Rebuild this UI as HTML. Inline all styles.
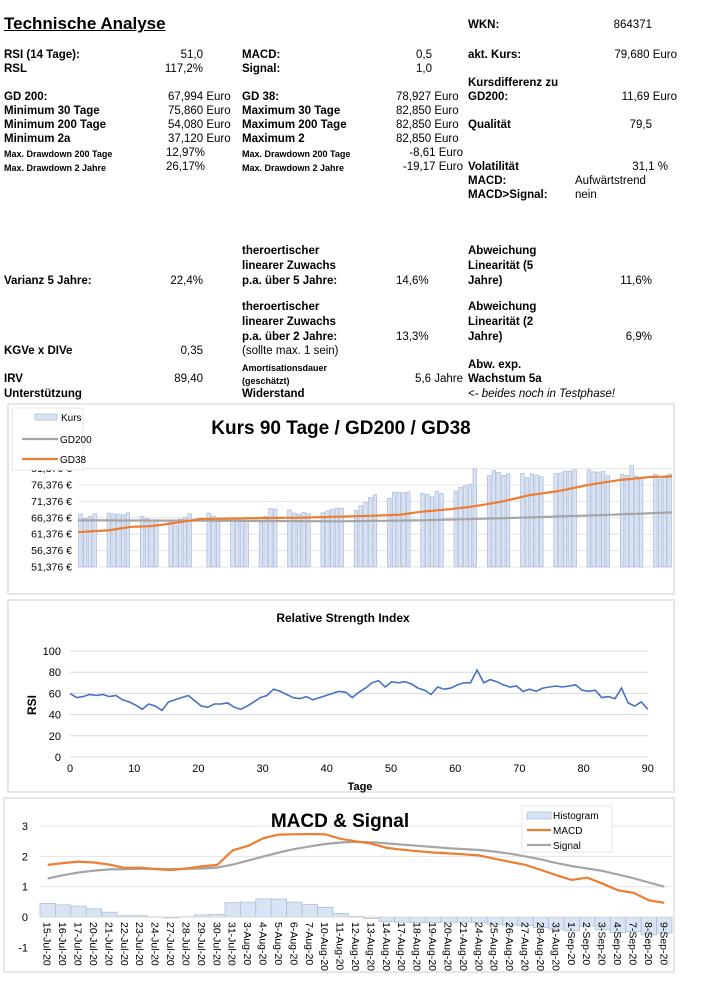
<!DOCTYPE html>
<html><head><meta charset="utf-8">
<style>
body{margin:0;background:#fff;width:706px;height:998px;overflow:hidden;position:relative;font-family:"Liberation Sans",Arial,sans-serif;}
.t{position:absolute;font-size:11.5px;font-weight:bold;white-space:nowrap;line-height:13px;}
.n{font-weight:normal}
.s{font-size:9px}
.r{text-align:right}
svg{position:absolute;left:0;top:0}
</style></head><body>
<div class="t" style="left:4px;top:14px;font-size:17px;text-decoration:underline;line-height:20px">Technische Analyse</div>
<div class="t" style="left:468px;top:19px">WKN:</div>
<div class="t n r" style="left:560px;width:92px;top:19px">864371</div>

<div class="t" style="left:4px;top:49px">RSI (14 Tage):</div><div class="t n r" style="left:120px;width:83px;top:49px">51,0</div>
<div class="t" style="left:4px;top:63px">RSL</div><div class="t n r" style="left:120px;width:83px;top:63px">117,2%</div>
<div class="t" style="left:242px;top:49px">MACD:</div><div class="t n r" style="left:350px;width:82px;top:49px">0,5</div>
<div class="t" style="left:242px;top:63px">Signal:</div><div class="t n r" style="left:350px;width:82px;top:63px">1,0</div>
<div class="t" style="left:468px;top:49px">akt. Kurs:</div><div class="t n r" style="left:560px;width:117px;top:49px">79,680 Euro</div>
<div class="t" style="left:468px;top:77px">Kursdifferenz zu</div>
<div class="t" style="left:468px;top:91px">GD200:</div><div class="t n r" style="left:560px;width:117px;top:91px">11,69 Euro</div>

<div class="t" style="left:4px;top:91px">GD 200:</div><div class="t n" style="left:168px;top:91px">67,994 Euro</div>
<div class="t" style="left:4px;top:105px">Minimum 30 Tage</div><div class="t n" style="left:168px;top:105px">75,860 Euro</div>
<div class="t" style="left:4px;top:119px">Minimum 200 Tage</div><div class="t n" style="left:168px;top:119px">54,080 Euro</div>
<div class="t" style="left:4px;top:133px">Minimum 2a</div><div class="t n" style="left:168px;top:133px">37,120 Euro</div>
<div class="t s" style="left:4px;top:148px">Max. Drawdown 200 Tage</div><div class="t n" style="left:166px;top:147px">12,97%</div>
<div class="t s" style="left:4px;top:162px">Max. Drawdown 2 Jahre</div><div class="t n" style="left:166px;top:161px">26,17%</div>

<div class="t" style="left:242px;top:91px">GD 38:</div><div class="t n" style="left:396px;top:91px">78,927 Euro</div>
<div class="t" style="left:242px;top:105px">Maximum 30 Tage</div><div class="t n" style="left:396px;top:105px">82,850 Euro</div>
<div class="t" style="left:242px;top:119px">Maximum 200 Tage</div><div class="t n" style="left:396px;top:119px">82,850 Euro</div>
<div class="t" style="left:242px;top:133px">Maximum 2</div><div class="t n" style="left:396px;top:133px">82,850 Euro</div>
<div class="t s" style="left:242px;top:148px">Max. Drawdown 200 Tage</div><div class="t n r" style="left:340px;width:123px;top:147px">-8,61 Euro</div>
<div class="t s" style="left:242px;top:162px">Max. Drawdown 2 Jahre</div><div class="t n r" style="left:340px;width:123px;top:161px">-19,17 Euro</div>

<div class="t" style="left:468px;top:119px">Qualität</div><div class="t n r" style="left:560px;width:92px;top:119px">79,5</div>
<div class="t" style="left:468px;top:161px">Volatilität</div><div class="t n r" style="left:560px;width:108px;top:161px">31,1 %</div>
<div class="t" style="left:468px;top:175px">MACD:</div><div class="t n" style="left:575px;top:175px">Aufwärtstrend</div>
<div class="t" style="left:468px;top:189px">MACD&gt;Signal:</div><div class="t n" style="left:575px;top:189px">nein</div>

<div class="t" style="left:242px;top:245px">theroertischer</div>
<div class="t" style="left:242px;top:260px">linearer Zuwachs</div>
<div class="t" style="left:242px;top:275px">p.a. über 5 Jahre:</div><div class="t n" style="left:396px;top:275px">14,6%</div>
<div class="t" style="left:4px;top:275px">Varianz 5 Jahre:</div><div class="t n r" style="left:120px;width:83px;top:275px">22,4%</div>
<div class="t" style="left:468px;top:245px">Abweichung</div>
<div class="t" style="left:468px;top:260px">Linearität (5</div>
<div class="t" style="left:468px;top:275px">Jahre)</div><div class="t n r" style="left:560px;width:92px;top:275px">11,6%</div>

<div class="t" style="left:242px;top:301px">theroertischer</div>
<div class="t" style="left:242px;top:316px">linearer Zuwachs</div>
<div class="t" style="left:242px;top:331px">p.a. über 2 Jahre:</div><div class="t n" style="left:396px;top:331px">13,3%</div>
<div class="t n" style="left:242px;top:345px">(sollte max. 1 sein)</div>
<div class="t" style="left:468px;top:301px">Abweichung</div>
<div class="t" style="left:468px;top:316px">Linearität (2</div>
<div class="t" style="left:468px;top:331px">Jahre)</div><div class="t n r" style="left:560px;width:92px;top:331px">6,9%</div>
<div class="t" style="left:4px;top:345px">KGVe x DIVe</div><div class="t n r" style="left:120px;width:83px;top:345px">0,35</div>

<div class="t s" style="left:242px;top:362px">Amortisationsdauer</div>
<div class="t s" style="left:242px;top:375px">(geschätzt)</div>
<div class="t n r" style="left:360px;width:103px;top:373px">5,6 Jahre</div>
<div class="t" style="left:468px;top:359px">Abw. exp.</div>
<div class="t" style="left:468px;top:373px">Wachstum 5a</div>
<div class="t" style="left:4px;top:373px">IRV</div><div class="t n r" style="left:120px;width:83px;top:373px">89,40</div>
<div class="t" style="left:4px;top:388px">Unterstützung</div>
<div class="t" style="left:242px;top:388px">Widerstand</div>
<div class="t n" style="left:468px;top:388px;font-style:italic">&lt;- beides noch in Testphase!</div>

<svg id="s" width="706" height="998" xmlns="http://www.w3.org/2000/svg" font-family="Liberation Sans, Arial, sans-serif"></svg>
<script>
var s=document.getElementById('s'),h='';
function L(x1,y1,x2,y2,c,w){h+='<line x1="'+x1+'" y1="'+y1+'" x2="'+x2+'" y2="'+y2+'" stroke="'+c+'" stroke-width="'+(w||1)+'"/>';}
function R(x,y,w,hh,f,st){h+='<rect x="'+x+'" y="'+y+'" width="'+w+'" height="'+hh+'" fill="'+f+'" stroke="'+(st||'none')+'" stroke-width="0.7"/>';}
function T(x,y,t,o){h+='<text x="'+x+'" y="'+y+'" '+(o||'')+'>'+t+'</text>';}
function P(pts,c,w){h+='<polyline fill="none" stroke="'+c+'" stroke-width="'+w+'" points="'+pts.map(function(p){return p[0].toFixed(1)+','+p[1].toFixed(1)}).join(' ')+'"/>';}
function interp(tab,x){for(var k=1;k<tab.length;k++){if(x<=tab[k][0]){var a=tab[k-1],b=tab[k];return a[1]+(b[1]-a[1])*(x-a[0])/(b[0]-a[0]);}}return tab[tab.length-1][1];}
// Chart 1
R(8,404,666,190,'#fff','#bbb');
var y1=function(v){return 567-(v-51.376)*16.4/5;};
for(var i=0;i<7;i++){var v=51.376+5*i;L(78,y1(v),672,y1(v),'#e4e4e4');T(72,y1(v)+3.5,(v.toFixed(3)).replace('.',',')+' €','font-size="10.5" text-anchor="end"');}
var kv=[67.5,66.2,66.8,67.6,0,0,67.8,67.6,67.5,67.3,67.9,0,0,66.8,66.2,65.5,65.8,0,0,65,64,66,66.5,67.6,0,0,0,67.8,66.8,65.8,0,0,65.5,65.8,65.5,65.2,0,0,65,66.8,69.2,69,0,0,68.8,67.8,67.5,68,67.6,0,0,67.9,68.5,69,69.3,69.3,0,0,68.6,70,71,72.5,73.4,0,0,72.3,74.2,74.2,74,74.3,0,0,73.8,73.5,72.8,74.4,73.8,0,0,74.5,75.6,76.1,76.5,81.3,0,0,79.2,80.8,80.2,79.3,79.8,0,0,79.9,78.6,79.8,79.4,78.9,0,0,79.8,80,80.6,80.6,81,0,0,81,80.4,80.3,80.6,79.2,0,0,79.6,79.3,82.3,79.1,78.3,0,0,79.6,78.2,79,79.7];
var n=kv.length,sw=594/n;
var g38t=[[78,62],[110,62.6],[130,63.6],[150,63.8],[175,64.8],[200,66],[260,66.3],[300,66.4],[360,66.9],[400,67.3],[420,68.2],[450,69],[470,69.7],[500,71.2],[530,73.3],[560,74.6],[590,76.5],[620,77.9],[650,78.8],[672,79]];
var g200t=[[78,65.6],[200,65.5],[340,65.3],[420,65.6],[520,66.4],[600,67.2],[672,68]];
var g38=[],g200=[];
for(i=0;i<n;i++){var x=78+i*sw;if(kv[i]>0)R(x+0.6,y1(kv[i]),sw-1.2,567-y1(kv[i]),'#dae3f3','#a8b8d8');}
for(var xx=78;xx<=672;xx+=3){g38.push([xx,y1(interp(g38t,xx))]);g200.push([xx,y1(interp(g200t,xx))]);}
P(g200,'#a5a5a5',2.2);P(g38,'#ed7d31',2.2);
R(12,408,71,62,'#fff','#ddd');R(35,414,22,6,'#dae3f3','#a8b8d8');T(61,421,'Kurs','font-size="10"');
L(22,439,58,439,'#a5a5a5',2.2);T(60,443,'GD200','font-size="10"');L(22,459,58,459,'#ed7d31',2.2);T(60,463,'GD38','font-size="10"');
T(341,434,'Kurs 90 Tage / GD200 / GD38','font-size="19" font-weight="bold" text-anchor="middle"');
// Chart 2
R(8,600,666,192,'#fff','#bbb');
T(343,622,'Relative Strength Index','font-size="12" font-weight="bold" text-anchor="middle"');
var y2=function(v){return 757-v*1.06;},x2=function(d){return 70+d*6.42;};
for(i=0;i<=5;i++){L(70,y2(i*20),648,y2(i*20),'#d9d9d9');T(61,y2(i*20)+4,i*20,'font-size="11" text-anchor="end"');}
for(i=0;i<=9;i++)T(x2(i*10),772,i*10,'font-size="11" text-anchor="middle"');
T(360,790,'Tage','font-size="11" font-weight="bold" text-anchor="middle"');
T(36,705,'RSI','font-size="12" font-weight="bold" text-anchor="middle" transform="rotate(-90 36 705)"');
var rsi=[60,56,57,59,58,59,57,58,54,52,49,45,50,48,44,52,54,56,58,53,48,47,50,50,51,47,45,48,52,56,58,64,62,59,56,55,57,54,56,58,60,62,61,56,61,65,70,72,66,71,70,71,69,65,63,59,66,64,65,68,70,70,82,70,73,71,68,66,67,62,64,62,65,66,67,66,67,68,63,62,63,56,57,55,65,51,48,52,45];
var pts=rsi.map(function(v,i){return [x2(i*90/(rsi.length-1)),y2(v)];});P(pts,'#4472c4',1.6);
// Chart 3
R(4,798,670,174,'#fff','#bbb');
var y3=function(v){return 917-v*30.3;};
for(i=-1;i<=3;i++){if(i>0)L(40,y3(i),672,y3(i),'#e4e4e4');T(28,y3(i)+4,i,'font-size="11" text-anchor="end"');}
var macd=[1.72,1.78,1.83,1.80,1.73,1.62,1.63,1.58,1.55,1.6,1.67,1.72,2.2,2.35,2.6,2.72,2.73,2.74,2.73,2.58,2.5,2.42,2.28,2.22,2.17,2.13,2.1,2.07,2.03,1.92,1.82,1.72,1.55,1.38,1.22,1.3,1.1,0.88,0.8,0.55,0.47];
var sig=[1.27,1.38,1.47,1.53,1.57,1.58,1.59,1.59,1.58,1.59,1.6,1.63,1.73,1.86,2.0,2.13,2.24,2.33,2.41,2.46,2.48,2.47,2.43,2.39,2.35,2.31,2.27,2.24,2.21,2.16,2.09,2.0,1.9,1.78,1.68,1.6,1.52,1.4,1.28,1.14,1.0];
var dates=['15-Jul-20','16-Jul-20','17-Jul-20','20-Jul-20','21-Jul-20','22-Jul-20','23-Jul-20','24-Jul-20','27-Jul-20','28-Jul-20','29-Jul-20','30-Jul-20','31-Jul-20','3-Aug-20','4-Aug-20','5-Aug-20','6-Aug-20','7-Aug-20','10-Aug-20','11-Aug-20','12-Aug-20','13-Aug-20','14-Aug-20','17-Aug-20','18-Aug-20','19-Aug-20','20-Aug-20','21-Aug-20','24-Aug-20','25-Aug-20','26-Aug-20','27-Aug-20','28-Aug-20','31-Aug-20','1-Sep-20','2-Sep-20','3-Sep-20','4-Sep-20','7-Sep-20','8-Sep-20','9-Sep-20'];
var dx=(672-40)/41,mp=[],sp=[];
for(i=0;i<41;i++){var cx=40+dx*i+dx/2,hv=macd[i]-sig[i];
R(40+dx*i,Math.min(y3(hv),917),dx,Math.abs(hv*30.3),'#dae3f3','#a8b8d8');
mp.push([cx,y3(macd[i])]);sp.push([cx,y3(sig[i])]);
T(cx-4,922,dates[i],'font-size="10.5" transform="rotate(90 '+(cx-4)+' 922)"');}
L(40,917,672,917,'#d9d9d9');
P(sp,'#a5a5a5',2.2);P(mp,'#ed7d31',2.2);
T(340,827,'MACD &amp; Signal','font-size="19" font-weight="bold" text-anchor="middle"');
R(522,806,90,46,'#fff','#ddd');R(527,812,24,7,'#dae3f3','#a8b8d8');T(553,819,'Histogram','font-size="10"');
L(527,830,551,830,'#ed7d31',2.2);T(553,834,'MACD','font-size="10"');L(527,845,551,845,'#a5a5a5',2.2);T(553,849,'Signal','font-size="10"');
s.innerHTML=h;
</script>
</body></html>
